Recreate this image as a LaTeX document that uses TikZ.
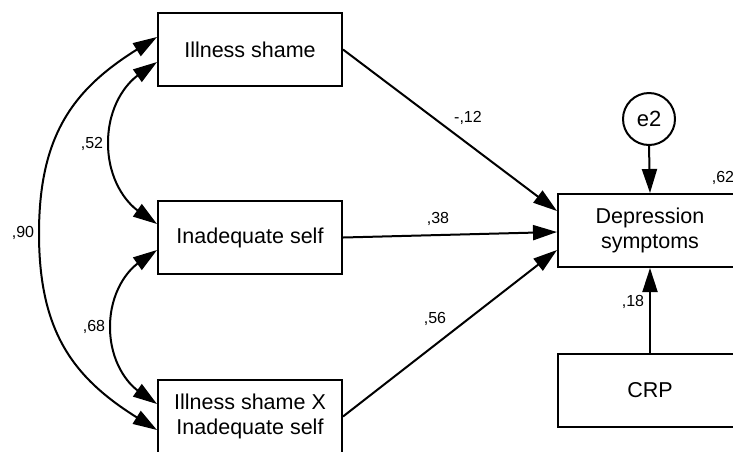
\documentclass[tikz,border=0pt]{standalone}
\usepackage{fontspec}
\setmainfont{Liberation Sans}
\usetikzlibrary{arrows.meta,calc}
\begin{document}
\begin{tikzpicture}[x=1pt,y=-1pt,
  box/.style={draw,line width=2pt,minimum width=184pt,minimum height=73pt,inner sep=0pt,align=center,font=\fontsize{21.5}{25}\selectfont},
  errc/.style={draw,circle,line width=2pt,minimum size=52pt,inner sep=0pt,font=\fontsize{22}{25}\selectfont},
  lbl/.style={inner sep=0pt,font=\fontsize{16}{19}\selectfont},
  path/.style={line width=2pt,-{Triangle[length=24pt,width=15pt]}},
  cov/.style={line width=2pt,{Triangle[length=24pt,width=15pt]}-{Triangle[length=24pt,width=15pt]}}]
\useasboundingbox (0,0) rectangle (733,451);
\clip (0,0) rectangle (733,451);
\node[box] (is) at (250,49.5) {Illness shame};
\node[box] (ins) at (250,237.5) {Inadequate self};
\node[box] (isx) at (250,416.5) {Illness shame X\\Inadequate self};
\node[box] (dep) at (650,230.5) {Depression\\symptoms};
\node[box] (crp) at (650,390.5) {CRP};
\node[errc] (e2) at (649,119) {e2};
% regressions
\draw[path] (is.east) -- ($(dep.west)+(0,-19.5)$);
\draw[path] (ins.east) -- ($(dep.west)+(0,1.5)$);
\draw[path] (isx.east) -- ($(dep.west)+(0,19.5)$);
\draw[path] (e2.south) -- (dep.north);
\draw[path] (crp.north) -- (dep.south);
% covariances
\coordinate (m52) at (108,143);
\coordinate (m68) at (110,327);
\coordinate (m90) at (39,233.5);
\draw[cov] ($(is.west)+(0,12.5)$) to[out=215,in=90,looseness=1.0] (m52) to[out=-90,in=145,looseness=1.0] ($(ins.west)+(0,-13.5)$);
\draw[cov] ($(ins.west)+(0,12.5)$) to[out=215,in=90,looseness=1.0] (m68) to[out=-90,in=145,looseness=1.0] ($(isx.west)+(0,-12.5)$);
\draw[cov] ($(is.west)+(0,-12.5)$) to[out=212,in=90,looseness=1.1] (m90) to[out=-90,in=148,looseness=1.1] ($(isx.west)+(0,13.5)$);
% labels
\node[lbl] (l12) at (468,118) {-,12};
\node[lbl] (l38) at (438,219) {,38};
\node[lbl] (l56) at (435,319) {,56};
\node[lbl] (l18) at (633,302) {,18};
\node[lbl] (l62) at (723,178) {,62};
\node[lbl] (l52) at (92,144) {,52};
\node[lbl] (l90) at (23,233) {,90};
\node[lbl] (l68) at (94,327) {,68};
\end{tikzpicture}
\end{document}
